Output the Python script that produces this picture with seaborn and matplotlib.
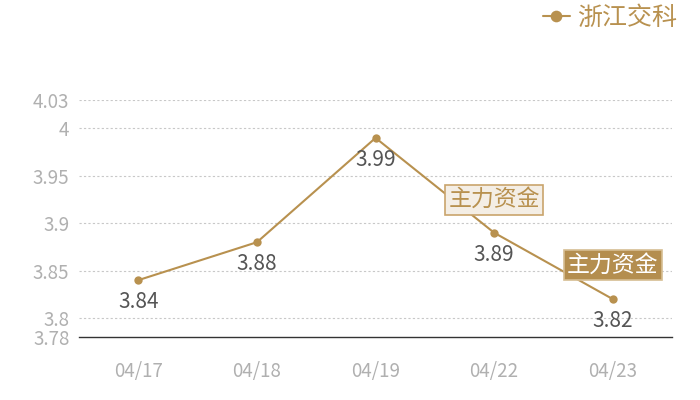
import pandas as pd
import matplotlib.pyplot as plt
import seaborn as sns

# data
dates = ["04/17", "04/18", "04/19", "04/22", "04/23"]
prices = [3.84, 3.88, 3.99, 3.89, 3.82]
series_name = "浙江交科"
y_ticks = [3.78, 3.8, 3.85, 3.9, 3.95, 4.0, 4.03]
y_tick_labels = ["3.78", "3.8", "3.85", "3.9", "3.95", "4", "4.03"]
flag_text = "主力资金"

gold = "#b8914f"

sns.set_style("white")
plt.rcParams['font.family'] = ['Noto Sans CJK SC', 'DejaVu Sans']

df = pd.DataFrame({"date": dates, "price": prices, "x": range(len(dates))})

fig = plt.figure(figsize=(7, 4), dpi=100)
ax = fig.add_axes([0.113, 0.1575, 0.847, 0.5925])

sns.lineplot(data=df, x="x", y="price", ax=ax, color=gold, linewidth=1.5,
             marker="o", markersize=6, markeredgewidth=0, label=series_name)

ax.set_xlim(-0.5, len(dates) - 0.5)
ax.set_ylim(y_ticks[0], y_ticks[-1])
ax.set_xticks(df["x"])
ax.set_xticklabels(dates)
ax.set_yticks(y_ticks)
ax.set_yticklabels(y_tick_labels)
ax.set_xlabel("")
ax.set_ylabel("")

# grid and spines
for t in y_ticks[1:]:
    ax.axhline(t, color="#c8c8c8", linewidth=0.8, linestyle=(0, (2, 2)), zorder=0)
for s in ["top", "right", "left"]:
    ax.spines[s].set_visible(False)
ax.spines["bottom"].set_color("#333333")
ax.spines["bottom"].set_linewidth(1)
ax.tick_params(axis="both", length=0, labelsize=13.5, colors="#b0b0b0", pad=7)
ax.tick_params(axis="x", pad=17)

# value labels under points
for xi, v in zip(df["x"], df["price"]):
    ax.annotate(f"{v:.2f}", (xi, v), xytext=(0, -22), textcoords="offset pixels",
                ha="center", va="center", fontsize=15, color="#555555")

# flags on the last two points
ax.annotate(flag_text, (3, prices[3]), xytext=(0, 33), textcoords="offset pixels",
            ha="center", va="center", fontsize=16.5, color=gold, zorder=5,
            bbox=dict(boxstyle="square,pad=0.15", fc="#f4eee5", ec="#c9a46c", lw=1.2))
ax.annotate(flag_text, (4, prices[4]), xytext=(0, 34), textcoords="offset pixels",
            ha="center", va="center", fontsize=16.5, color="white", zorder=5,
            bbox=dict(boxstyle="square,pad=0.15", fc="#b48e4f", ec="#d6bd92", lw=1.2))

leg = ax.legend(loc="upper right", bbox_to_anchor=(1.0, 1.045), bbox_transform=fig.transFigure,
                frameon=False, fontsize=18, handlelength=1.1, handletextpad=0.3,
                markerscale=1.4)
for t in leg.get_texts():
    t.set_color(gold)

fig.savefig("out.png", dpi=100)
